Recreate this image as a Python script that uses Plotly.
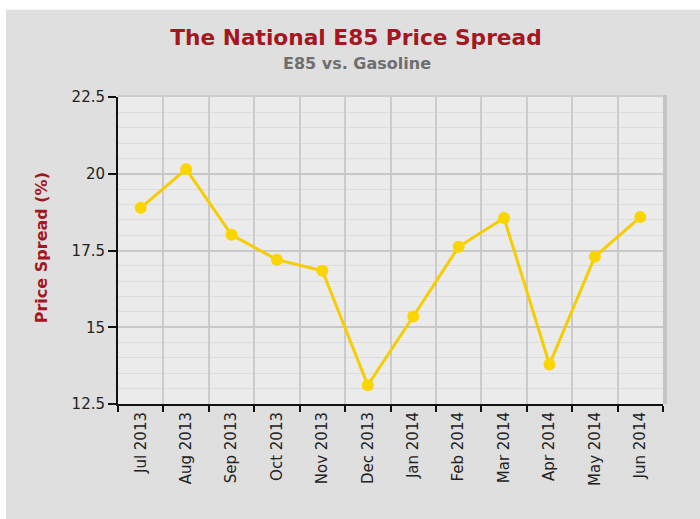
import plotly.graph_objects as go

months = ["Jul 2013", "Aug 2013", "Sep 2013", "Oct 2013", "Nov 2013", "Dec 2013",
          "Jan 2014", "Feb 2014", "Mar 2014", "Apr 2014", "May 2014", "Jun 2014"]
spread = [18.89, 20.15, 18.01, 17.20, 16.84, 13.11, 15.35, 17.62, 18.56, 13.79, 17.30, 18.59]
y_ticks = [12.5, 15, 17.5, 20, 22.5]
y_tick_text = ["12.5", "15", "17.5", "20", "22.5"]

title_text = "The National E85 Price Spread"
subtitle_text = "E85 vs. Gasoline"
y_title = "Price Spread (%)"

RED = "#a3181f"
FONT = "DejaVu Sans"

fig = go.Figure()
fig.add_trace(go.Scatter(
    x=months, y=spread, mode="lines+markers",
    line=dict(color="#f5cd00", width=3),
    marker=dict(color="#fbd500", size=12),
    showlegend=False, hoverinfo="x+y",
))

PW, PH = 545.0, 306.5
fig.update_layout(
    width=700, height=519,
    margin=dict(l=118, r=37, t=97, b=115, autoexpand=False),
    paper_bgcolor="#dfdfdf",
    plot_bgcolor="#ebebeb",
    font=dict(family=FONT, color="#222222"),
    xaxis=dict(
        type="category", range=[-0.5, 11.5], tickson="boundaries",
        showgrid=True, gridcolor="#cbcbcb", gridwidth=2,
        showline=True, linecolor="#111111", linewidth=2,
        ticks="outside", ticklen=6, tickwidth=2, tickcolor="#111111",
        tickangle=-90, tickfont=dict(family=FONT, size=15, color="#222222"),
        zeroline=False, fixedrange=True,
    ),
    yaxis=dict(
        range=[12.5, 22.5], tickvals=y_ticks, ticktext=y_tick_text,
        showgrid=True, gridcolor="#c8c8c8", gridwidth=2,
        minor=dict(dtick=0.5, showgrid=True, gridcolor="#dcdcdc", gridwidth=1, ticks=""),
        showline=True, linecolor="#111111", linewidth=2,
        ticks="outside", ticklen=8, tickwidth=2, tickcolor="#111111",
        tickfont=dict(family=FONT, size=15, color="#222222"),
        zeroline=False, fixedrange=True,
    ),
    title=dict(
        text="<b>" + title_text + "</b>", x=356 / 700, xanchor="center",
        y=1 - 37 / 519, yanchor="middle", xref="container", yref="container",
        font=dict(family=FONT, size=21.7, color=RED),
    ),
    shapes=[
        # white strips around the grey panel (top and left)
        dict(type="rect", xref="paper", yref="paper", layer="above",
             x0=(0 - 118) / PW, x1=(700 - 118) / PW,
             y0=(403.5 - 10) / PH, y1=(403.5 + 2) / PH,
             fillcolor="white", line=dict(width=0)),
        dict(type="rect", xref="paper", yref="paper", layer="above",
             x0=(0 - 118) / PW, x1=(6 - 118) / PW,
             y0=(403.5 - 521) / PH, y1=(403.5 + 2) / PH,
             fillcolor="white", line=dict(width=0)),
        # plot-area shadow
        dict(type="rect", xref="paper", yref="paper", layer="above",
             x0=1, x1=1 + 4 / PW, y0=0, y1=1 + 2 / PH,
             fillcolor="#c4c4c4", line=dict(width=0)),
        dict(type="rect", xref="paper", yref="paper", layer="above",
             x0=0, x1=1, y0=1, y1=1 + 2 / PH,
             fillcolor="#cccccc", line=dict(width=0)),
    ],
    annotations=[
        dict(text="<b>" + subtitle_text + "</b>", xref="paper", yref="paper",
             x=(357 - 118) / PW, y=(403.5 - 64) / PH, xanchor="center", yanchor="middle",
             showarrow=False, font=dict(family=FONT, size=16, color="#6e6e6e")),
        dict(text="<b>" + y_title + "</b>", xref="paper", yref="paper",
             x=(41 - 118) / PW, y=(403.5 - 248) / PH, xanchor="center", yanchor="middle",
             textangle=-90, showarrow=False, font=dict(family=FONT, size=16, color=RED)),
    ],
)

fig.write_html("out.html", config={"displayModeBar": False},
               post_script="document.body.style.margin='0';")
